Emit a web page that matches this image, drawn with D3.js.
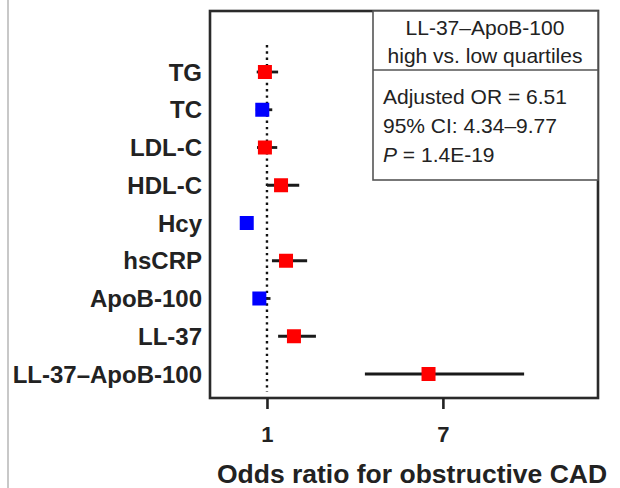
<!DOCTYPE html>
<html><head><meta charset="utf-8">
<script src="https://cdn.jsdelivr.net/npm/d3@7"></script>
<style>html,body{margin:0;padding:0;background:#fff;}svg{display:block;}</style>
</head><body>
<svg id="chart" width="620" height="488"></svg>
<script>
const categories = ["TG","TC","LDL-C","HDL-C","Hcy","hsCRP","ApoB-100","LL-37","LL-37\u2013ApoB-100"];
const oddsRatio = [0.93, 0.84, 0.93, 1.48, 0.31, 1.65, 0.74, 1.92, 6.51];
const ciLow     = [0.65, 0.62, 0.66, 1.00, 0.20, 1.17, 0.55, 1.38, 4.34];
const ciHigh    = [1.38, 1.18, 1.35, 2.10, 0.42, 2.37, 1.12, 2.67, 9.77];
const direction = ["up","down","up","up","down","up","down","up","up"];
const xTicks = [1, 7];
const legendTitle = ["LL-37\u2013ApoB-100", "high vs. low quartiles"];
const xTitle = "Odds ratio for obstructive CAD";

const svg = d3.select("#chart");
const font = "'Liberation Sans', Arial, Helvetica, sans-serif";
const L = 210, R = 598, T = 11, B = 398;

const x = d3.scaleLinear().domain([-0.943, 12.29]).range([L, R]);
const y = d3.scalePoint().domain(categories).range([72, 374]);

// light gray panel edge on the left
svg.append("line").attr("x1", 8).attr("x2", 8).attr("y1", 0).attr("y2", 488)
  .attr("stroke", "#c8c8c8").attr("stroke-width", 2);

// reference line at OR = 1
svg.append("line").attr("x1", x(1)).attr("x2", x(1)).attr("y1", 45).attr("y2", 392)
  .attr("stroke", "#111").attr("stroke-width", 2.4).attr("stroke-dasharray", "2.4,3.9");

// frame
svg.append("rect").attr("x", L).attr("y", T).attr("width", R - L).attr("height", B - T)
  .attr("fill", "none").attr("stroke", "#2a2a2a").attr("stroke-width", 2.6);

// legend box
const lg = svg.append("g");
lg.append("rect").attr("x", 373).attr("y", T).attr("width", R - 373).attr("height", 180 - T)
  .attr("fill", "#fff").attr("stroke", "#555").attr("stroke-width", 1.6);
lg.append("line").attr("x1", 373).attr("x2", R).attr("y1", 70).attr("y2", 70)
  .attr("stroke", "#555").attr("stroke-width", 1.6);
lg.selectAll("text.lt").data(legendTitle).join("text").attr("class", "lt")
  .attr("x", 485).attr("y", (d, i) => 35 + i * 28)
  .attr("text-anchor", "middle").attr("font-family", font).attr("font-size", 21)
  .attr("fill", "#222").text(d => d);
const stats = lg.append("g").attr("font-family", font).attr("font-size", 21).attr("fill", "#222");
stats.append("text").attr("x", 383).attr("y", 104).text("Adjusted OR = 6.51");
stats.append("text").attr("x", 383).attr("y", 133).text("95% CI: 4.34\u20139.77");
const pt = stats.append("text").attr("x", 383).attr("y", 162);
pt.append("tspan").attr("font-style", "italic").text("P");
pt.append("tspan").text(" = 1.4E-19");

// rows
const rows = categories.map((c, i) => ({c, or: oddsRatio[i], lo: ciLow[i], hi: ciHigh[i], dir: direction[i]}));
svg.append("g").selectAll("line").data(rows).join("line")
  .attr("x1", d => x(d.lo)).attr("x2", d => x(d.hi))
  .attr("y1", d => y(d.c)).attr("y2", d => y(d.c))
  .attr("stroke", "#1a1a1a").attr("stroke-width", 2.8);
const sq = 14;
svg.append("g").selectAll("rect").data(rows).join("rect")
  .attr("x", d => x(d.or) - sq / 2).attr("y", d => y(d.c) - sq / 2)
  .attr("width", sq).attr("height", sq)
  .attr("fill", d => d.dir === "up" ? "#ff0000" : "#0000ff");

// y labels
svg.append("g").selectAll("text").data(categories).join("text")
  .attr("x", 202).attr("y", d => y(d)).attr("dy", "0.36em")
  .attr("text-anchor", "end").attr("font-family", font).attr("font-size", 24)
  .attr("font-weight", "bold").attr("fill", "#222").text(d => d);

// x axis
const xAxis = d3.axisBottom(x).tickValues(xTicks).tickSize(11).tickPadding(17).tickFormat(d3.format("d"));
const ax = svg.append("g").attr("transform", `translate(0,${B})`).call(xAxis);
ax.select(".domain").remove();
ax.selectAll(".tick line").attr("stroke", "#222").attr("stroke-width", 2.6);
ax.selectAll(".tick text").attr("font-family", font).attr("font-size", 22)
  .attr("font-weight", "bold").attr("fill", "#222");

svg.append("text").attr("x", 412).attr("y", 483).attr("text-anchor", "middle")
  .attr("font-family", font).attr("font-size", 26.5).attr("font-weight", "bold")
  .attr("fill", "#222").text(xTitle);
</script>
</body></html>
